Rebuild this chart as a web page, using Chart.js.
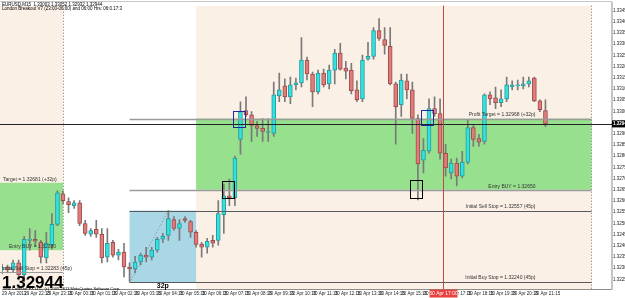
<!DOCTYPE html>
<html>
<head>
<meta charset="utf-8">
<script src="https://cdn.jsdelivr.net/npm/chart.js@4.4.0/dist/chart.umd.min.js"></script>
<style>
html, body { margin: 0; padding: 0; background: #fff; overflow: hidden; }
canvas { display: block; }
</style>
</head>
<body>
<canvas id="mycanvas" width="625" height="298"></canvas>
<script>
// EURUSD M15, 29 Apr 21:15 -> 30 Apr 21:45
var tickLabels = ["29 Apr 2013", "29 Apr 22:15", "29 Apr 23:15", "30 Apr 00:15", "30 Apr 01:15", "30 Apr 02:15",
    "30 Apr 03:15", "30 Apr 04:15", "30 Apr 05:15", "30 Apr 06:15", "30 Apr 07:15", "30 Apr 08:15", "30 Apr 09:15",
    "30 Apr 10:15", "30 Apr 11:15", "30 Apr 12:15", "30 Apr 13:15", "30 Apr 14:15", "30 Apr 15:15", "30 Apr 16:15",
    "30 Apr 17:15", "30 Apr 18:15", "30 Apr 19:15", "30 Apr 20:15", "30 Apr 21:15"];

var opens = [1.32292, 1.32305, 1.32292, 1.32323, 1.32269, 1.32424, 1.32429, 1.32415, 1.32345, 1.32402,
    1.32495, 1.32632, 1.32597, 1.32579, 1.32592, 1.32499, 1.32451, 1.32473, 1.32451, 1.32349,
    1.32415, 1.32358, 1.32371, 1.32305, 1.32296, 1.32327, 1.32358, 1.32349, 1.32380, 1.32429,
    1.32446, 1.32517, 1.32477, 1.32521, 1.32508, 1.32460, 1.32406, 1.32393, 1.32424, 1.32424,
    1.32539, 1.32623, 1.32614, 1.32875, 1.33003, 1.32985, 1.32937, 1.32924, 1.32906, 1.32902,
    1.33069, 1.33114, 1.33065, 1.33118, 1.33127, 1.33229, 1.33167, 1.33087, 1.33171, 1.33123,
    1.33184, 1.33260, 1.33193, 1.33184, 1.33096, 1.33056, 1.33233, 1.33246, 1.33361, 1.33321,
    1.33290, 1.33123, 1.33030, 1.33136, 1.33096, 1.32968, 1.32782, 1.32822, 1.33012, 1.32990,
    1.32813, 1.32725, 1.32769, 1.32711, 1.32773, 1.32928, 1.32879, 1.32866, 1.33074, 1.33061,
    1.33039, 1.33056, 1.33109, 1.33114, 1.33114, 1.33123, 1.33149, 1.33047, 1.33003];
var highs = [1.32318, 1.32314, 1.32336, 1.32336, 1.32442, 1.32477, 1.32468, 1.32424, 1.32460, 1.32544,
    1.32645, 1.32645, 1.32614, 1.32601, 1.32601, 1.32513, 1.32477, 1.32513, 1.32477, 1.32477,
    1.32424, 1.32384, 1.32411, 1.32323, 1.32353, 1.32367, 1.32393, 1.32393, 1.32437, 1.32455,
    1.32557, 1.32530, 1.32517, 1.32530, 1.32513, 1.32468, 1.32415, 1.32433, 1.32446, 1.32601,
    1.32676, 1.32698, 1.32800, 1.33043, 1.33065, 1.32999, 1.32955, 1.32968, 1.32968, 1.33131,
    1.33171, 1.33145, 1.33153, 1.33149, 1.33330, 1.33242, 1.33176, 1.33184, 1.33189, 1.33207,
    1.33277, 1.33304, 1.33224, 1.33215, 1.33136, 1.33251, 1.33308, 1.33374, 1.33414, 1.33374,
    1.33374, 1.33131, 1.33167, 1.33167, 1.33131, 1.32985, 1.32879, 1.33056, 1.33065, 1.33056,
    1.32853, 1.32787, 1.32791, 1.32822, 1.32963, 1.32941, 1.32897, 1.33078, 1.33087, 1.33109,
    1.33096, 1.33153, 1.33136, 1.33140, 1.33153, 1.33153, 1.33153, 1.33052, 1.33052];
var lows = [1.32274, 1.32278, 1.32283, 1.32247, 1.32239, 1.32380, 1.32398, 1.32323, 1.32323, 1.32384,
    1.32490, 1.32588, 1.32548, 1.32566, 1.32490, 1.32446, 1.32442, 1.32437, 1.32323, 1.32327,
    1.32349, 1.32336, 1.32261, 1.32240, 1.32278, 1.32314, 1.32327, 1.32336, 1.32371, 1.32415,
    1.32424, 1.32468, 1.32424, 1.32504, 1.32437, 1.32393, 1.32349, 1.32367, 1.32393, 1.32402,
    1.32455, 1.32579, 1.32579, 1.32809, 1.32977, 1.32866, 1.32888, 1.32866, 1.32866, 1.32888,
    1.33043, 1.33043, 1.33034, 1.33096, 1.33109, 1.33140, 1.33021, 1.33078, 1.33109, 1.33100,
    1.33123, 1.33184, 1.33145, 1.33078, 1.33043, 1.33043, 1.33229, 1.33233, 1.33317, 1.33255,
    1.33118, 1.32853, 1.32977, 1.33056, 1.32902, 1.32605, 1.32725, 1.32813, 1.32977, 1.32787,
    1.32711, 1.32698, 1.32667, 1.32703, 1.32765, 1.32844, 1.32844, 1.32853, 1.33030, 1.33012,
    1.33021, 1.33043, 1.33096, 1.33096, 1.33100, 1.33109, 1.33043, 1.32999, 1.32932];
var closes = [1.32305, 1.32292, 1.32323, 1.32269, 1.32429, 1.32429, 1.32420, 1.32349, 1.32411, 1.32495,
    1.32636, 1.32601, 1.32583, 1.32592, 1.32499, 1.32455, 1.32468, 1.32451, 1.32345, 1.32411,
    1.32358, 1.32371, 1.32305, 1.32296, 1.32327, 1.32358, 1.32349, 1.32380, 1.32429, 1.32442,
    1.32521, 1.32477, 1.32499, 1.32513, 1.32460, 1.32406, 1.32393, 1.32420, 1.32411, 1.32544,
    1.32623, 1.32614, 1.32791, 1.32999, 1.32985, 1.32937, 1.32924, 1.32910, 1.32910, 1.33074,
    1.33096, 1.33065, 1.33118, 1.33127, 1.33229, 1.33167, 1.33087, 1.33171, 1.33118, 1.33184,
    1.33260, 1.33189, 1.33180, 1.33092, 1.33052, 1.33229, 1.33246, 1.33361, 1.33326, 1.33295,
    1.33123, 1.33021, 1.33140, 1.33096, 1.32968, 1.32765, 1.32826, 1.33012, 1.32990, 1.32813,
    1.32747, 1.32769, 1.32711, 1.32773, 1.32928, 1.32875, 1.32862, 1.33074, 1.33056, 1.33039,
    1.33056, 1.33118, 1.33118, 1.33118, 1.33123, 1.33136, 1.33047, 1.33008, 1.32944];

// breakout levels
var bidPrice = 1.32944;
var profitTarget = 1.32968;
var entryBuy = 1.32650;
var sellStop = 1.32557;
var buyStop = 1.32240;
var rangeHigh = 1.32557;
var rangeLow = 1.32234;
var prevTarget = 1.32681;
var prevEntry = 1.32380;
var prevStop = 1.32283;

// bar indexes of the sessions (15 min bars)
var dayStart = 11;      // 30 Apr 00:00
var rangeStart = 23;    // 03:00
var rangeEnd = 35;      // 06:00
var shiftEnd = 106.3;
var markerBar = 79.5;
var barCount = 111;

var labels = [];
for (var i = 0; i < barCount; i++) {
    labels.push(i % 4 === 0 && tickLabels[i / 4] ? tickLabels[i / 4] : '');
}

var bodyColors = [], bodyBorders = [];
for (var i in opens) {
    var up = closes[i] >= opens[i];
    bodyColors.push(up ? '#30E2E2' : '#E07C7C');
    bodyBorders.push(up ? '#2A9A9A' : '#9C4B4B');
}

Chart.defaults.font.family = '"Liberation Sans", Arial, sans-serif';

var drawLevels = {
    id: 'drawLevels',
    beforeDatasetsDraw: function (chart) {
        var ctx = chart.ctx, a = chart.chartArea;
        var px = function (v) { return chart.scales.x.getPixelForValue(v); };
        var py = function (v) { return chart.scales.y.getPixelForValue(v); };
        ctx.save();
        // session backgrounds
        ctx.fillStyle = '#FBF0E6';
        ctx.fillRect(0, a.top + 3, px(dayStart), a.bottom - a.top - 3);
        ctx.fillRect(px(rangeEnd), a.top + 3, px(shiftEnd) - px(rangeEnd), a.bottom - a.top - 3);
        // previous day target box
        ctx.fillStyle = '#97E08E';
        ctx.fillRect(0, py(prevTarget), px(dayStart), py(prevEntry) - py(prevTarget));
        // today target box
        ctx.fillRect(px(rangeEnd), py(profitTarget), px(shiftEnd) - px(rangeEnd), py(entryBuy) - py(profitTarget));
        // asian range box
        ctx.fillStyle = '#A9D7E6';
        ctx.fillRect(px(rangeStart), py(rangeHigh), px(rangeEnd) - px(rangeStart), py(rangeLow) - py(rangeHigh));
        // dotted separators
        ctx.strokeStyle = '#777';
        ctx.lineWidth = 1;
        ctx.setLineDash([1, 2]);
        [dayStart, shiftEnd].forEach(function (b) {
            var x = Math.round(px(b)) + 0.5;
            ctx.beginPath();
            ctx.moveTo(x, a.top + 3);
            ctx.lineTo(x, a.bottom);
            ctx.stroke();
        });
        ctx.strokeStyle = '#8a8a8a';
        ctx.beginPath();
        ctx.moveTo(px(rangeStart), py(rangeLow));
        ctx.lineTo(px(30), py(rangeHigh));
        ctx.stroke();
        ctx.setLineDash([]);
        // top border
        ctx.strokeStyle = '#c8c8c8';
        ctx.beginPath();
        ctx.moveTo(0, 1.5);
        ctx.lineTo(a.right, 1.5);
        ctx.stroke();
        ctx.restore();
    },
    afterDatasetsDraw: function (chart) {
        var ctx = chart.ctx, a = chart.chartArea;
        var px = function (v) { return chart.scales.x.getPixelForValue(v); };
        var py = function (v) { return chart.scales.y.getPixelForValue(v); };
        ctx.save();
        function hline(price, x1, x2, color, w) {
            var y = Math.round(py(price)) + 0.5;
            ctx.strokeStyle = color;
            ctx.lineWidth = w;
            ctx.beginPath();
            ctx.moveTo(x1, y);
            ctx.lineTo(x2, y);
            ctx.stroke();
        }
        hline(profitTarget, px(rangeStart), px(shiftEnd), '#9a9a9a', 1.5);
        hline(entryBuy, px(rangeStart), px(shiftEnd), '#9a9a9a', 1.5);
        hline(sellStop, px(rangeStart), px(shiftEnd), '#5a5a5a', 1);
        hline(buyStop, px(rangeStart), px(shiftEnd), '#5a5a5a', 1);
        hline(prevStop, 0, px(dayStart), '#9a9a9a', 1);
        hline(bidPrice, 0, a.right, '#222', 1);

        // marker line
        var mx = Math.round(px(markerBar)) + 0.5;
        ctx.strokeStyle = '#C24848';
        ctx.lineWidth = 1;
        ctx.beginPath();
        ctx.moveTo(mx, a.top + 3);
        ctx.lineTo(mx, a.bottom);
        ctx.stroke();

        // breakout boxes
        function box(b1, b2, p1, p2, color) {
            ctx.strokeStyle = color;
            ctx.lineWidth = 1;
            ctx.strokeRect(Math.round(px(b1)) + 0.5, Math.round(py(p1)) + 0.5,
                Math.round(px(b2) - px(b1)), Math.round(py(p2) - py(p1)));
        }
        box(39.6, 41.8, 1.32689, 1.32614, '#000');
        box(73.5, 75.7, 1.32694, 1.32614, '#000');
        box(41.6, 43.8, 1.33003, 1.32932, '#1E2A9C');
        box(75.5, 77.7, 1.33008, 1.32941, '#1E2A9C');

        // level texts
        ctx.fillStyle = '#333';
        ctx.font = '5px "Liberation Sans"';
        ctx.textAlign = 'right';
        ctx.textBaseline = 'bottom';
        var tx = px(96.2);
        ctx.fillText('Profit Target = ' + profitTarget.toFixed(5) + ' (+32p)', tx, py(profitTarget) - 1);
        ctx.fillText('Entry BUY = ' + entryBuy.toFixed(5), tx, py(entryBuy) - 1);
        ctx.fillText('Initial Sell Stop = ' + sellStop.toFixed(5) + ' (45p)', tx, py(sellStop) - 1);
        ctx.fillText('Initial Buy Stop = ' + buyStop.toFixed(5) + ' (45p)', tx, py(buyStop) - 1);
        ctx.textAlign = 'left';
        ctx.fillText('Target = ' + prevTarget.toFixed(5) + ' (+32p)', 3, py(prevTarget) - 1);
        ctx.fillText('Entry BUY = ' + prevEntry.toFixed(5), 9, py(prevEntry) - 1);
        ctx.fillText('Initial Sell Stop = ' + prevStop.toFixed(5) + ' (45p)', 2, py(prevStop) - 1);

        // title
        ctx.textBaseline = 'alphabetic';
        ctx.fillStyle = '#000';
        ctx.font = '4.5px "Liberation Sans"';
        ctx.fillText('EURUSD,M15  1.33003 1.33052 1.32932 ' + bidPrice.toFixed(5), 2, 6);
        ctx.fillText('London Breakout V7 (23:00-06:00) and 06:00 Hrs: 06:0.17:3', 2, 10);

        // range size
        ctx.font = 'bold 7px "Liberation Sans"';
        ctx.textAlign = 'center';
        ctx.fillText('32p', px(29), a.bottom - 1);

        // big bid price
        ctx.textAlign = 'left';
        ctx.font = 'bold 17px "Liberation Sans"';
        ctx.fillText(bidPrice.toFixed(5), 2, a.bottom - 1);
        ctx.font = '4px "Liberation Sans"';
        ctx.fillText('Time Collector FX LLC, (c) 2005-2013 MetaQuotes Software Corp.', 2, a.bottom + 0.5);

        // bid label on price axis
        var by = py(bidPrice);
        ctx.fillStyle = '#000';
        ctx.fillRect(a.right, by - 3.5, 14, 7);
        ctx.fillStyle = '#fff';
        ctx.font = 'bold 4.5px "Liberation Sans"';
        ctx.textBaseline = 'middle';
        ctx.fillText(bidPrice.toFixed(5), a.right + 1, by);

        // time marker label
        ctx.fillStyle = '#E8403C';
        ctx.fillRect(mx - 14, a.bottom + 0.5, 28, 8);
        ctx.fillStyle = '#fff';
        ctx.font = '5px "Liberation Sans"';
        ctx.textAlign = 'center';
        ctx.fillText('30 Apr 17:00', mx, a.bottom + 4.5);
        ctx.restore();
    }
};

var ctx = document.getElementById('mycanvas');
var candleChart = new Chart(ctx, {
    type: 'bar',
    data: {
        labels: labels,
        datasets: [
            {
                label: 'body',
                data: opens.map(function (o, i) { return [o, closes[i]]; }),
                backgroundColor: bodyColors,
                borderColor: bodyBorders,
                borderWidth: 1,
                borderSkipped: false,
                barThickness: 4,
                grouped: false
            },
            {
                label: 'wick',
                data: lows.map(function (l, i) { return [l, highs[i]]; }),
                backgroundColor: '#7a7a7a',
                borderWidth: 0,
                barThickness: 1,
                grouped: false
            }
        ]
    },
    options: {
        responsive: false,
        animation: false,
        devicePixelRatio: 1,
        layout: { padding: { left: 1, top: 0, right: 0, bottom: 0 } },
        plugins: { legend: { display: false }, tooltip: { enabled: false } },
        scales: {
            x: {
                type: 'category',
                offset: false,
                grid: { display: false, drawTicks: false },
                border: { display: true, color: '#8c8c8c' },
                ticks: {
                    autoSkip: false,
                    maxRotation: 0,
                    minRotation: 0,
                    align: 'start',
                    padding: 2,
                    color: '#222',
                    font: { size: 4.5 },
                    callback: function (v, i) { return labels[i]; }
                },
                afterFit: function (s) { s.height = 9; }
            },
            y: {
                position: 'right',
                min: 1.322066,
                max: 1.334854,
                grid: { drawOnChartArea: false, drawTicks: true, tickLength: 1, color: '#555' },
                border: { display: true, color: '#c4c4c4', width: 2 },
                ticks: {
                    stepSize: 0.0005,
                    padding: 0,
                    color: '#222',
                    font: { size: 4.5 },
                    callback: function (v) { return v.toFixed(5); }
                },
                afterBuildTicks: function (s) {
                    s.ticks = s.ticks.filter(function (t) {
                        var r = t.value / 0.0005;
                        return Math.abs(r - Math.round(r)) < 0.001;
                    });
                },
                afterFit: function (s) { s.width = 13; }
            }
        }
    },
    plugins: [drawLevels]
});
</script>
</body>
</html>
